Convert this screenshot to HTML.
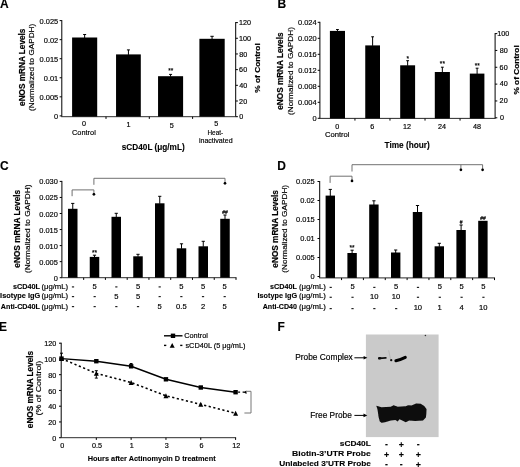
<!DOCTYPE html>
<html><head><meta charset="utf-8"><style>
html,body{margin:0;padding:0;background:#fff;}
svg{display:block;will-change:transform;}
text{font-family:"Liberation Sans", sans-serif;}
text{stroke:#000;stroke-width:0.18px;}
text[font-weight=bold]{stroke-width:0.12px;}
</style></head><body>
<svg width="520" height="467" viewBox="0 0 520 467">
<defs><filter id="gb" x="0" y="0" width="100%" height="100%" filterUnits="userSpaceOnUse"><feGaussianBlur stdDeviation="0.45"/></filter><filter id="bl" x="-10%" y="-30%" width="120%" height="160%"><feGaussianBlur stdDeviation="0.45"/></filter></defs>
<rect width="520" height="467" fill="#fff"/>
<g filter="url(#gb)">
<text x="0.10" y="8.20" font-size="12.00" font-weight="bold" textLength="8.67" lengthAdjust="spacingAndGlyphs">A</text>
<line x1="61.80" y1="20.10" x2="61.80" y2="116.70" stroke="#000" stroke-width="1.0"/>
<line x1="59.60" y1="20.60" x2="61.80" y2="20.60" stroke="#000" stroke-width="1.0"/>
<text x="39.57" y="23.89" font-size="8.10" textLength="18.65" lengthAdjust="spacingAndGlyphs">0.025</text>
<line x1="59.60" y1="39.66" x2="61.80" y2="39.66" stroke="#000" stroke-width="1.0"/>
<text x="43.78" y="42.95" font-size="8.10" textLength="14.50" lengthAdjust="spacingAndGlyphs">0.02</text>
<line x1="59.60" y1="58.72" x2="61.80" y2="58.72" stroke="#000" stroke-width="1.0"/>
<text x="39.57" y="62.01" font-size="8.10" textLength="18.65" lengthAdjust="spacingAndGlyphs">0.015</text>
<line x1="59.60" y1="77.78" x2="61.80" y2="77.78" stroke="#000" stroke-width="1.0"/>
<text x="43.78" y="81.07" font-size="8.10" textLength="14.50" lengthAdjust="spacingAndGlyphs">0.01</text>
<line x1="59.60" y1="96.84" x2="61.80" y2="96.84" stroke="#000" stroke-width="1.0"/>
<text x="39.57" y="100.13" font-size="8.10" textLength="18.65" lengthAdjust="spacingAndGlyphs">0.005</text>
<line x1="59.60" y1="115.90" x2="61.80" y2="115.90" stroke="#000" stroke-width="1.0"/>
<text x="54.06" y="119.19" font-size="8.10" textLength="4.14" lengthAdjust="spacingAndGlyphs">0</text>
<line x1="235.70" y1="22.10" x2="235.70" y2="116.70" stroke="#000" stroke-width="1.0"/>
<line x1="235.70" y1="22.60" x2="237.90" y2="22.60" stroke="#000" stroke-width="1.0"/>
<text x="238.96" y="25.21" font-size="7.20" textLength="12.01" lengthAdjust="spacingAndGlyphs">120</text>
<line x1="235.70" y1="38.28" x2="237.90" y2="38.28" stroke="#000" stroke-width="1.0"/>
<text x="238.96" y="40.89" font-size="7.20" textLength="12.01" lengthAdjust="spacingAndGlyphs">100</text>
<line x1="235.70" y1="53.96" x2="237.90" y2="53.96" stroke="#000" stroke-width="1.0"/>
<text x="239.18" y="56.57" font-size="7.20" textLength="8.01" lengthAdjust="spacingAndGlyphs">80</text>
<line x1="235.70" y1="69.64" x2="237.90" y2="69.64" stroke="#000" stroke-width="1.0"/>
<text x="239.14" y="72.25" font-size="7.20" textLength="8.01" lengthAdjust="spacingAndGlyphs">60</text>
<line x1="235.70" y1="85.32" x2="237.90" y2="85.32" stroke="#000" stroke-width="1.0"/>
<text x="239.32" y="87.93" font-size="7.20" textLength="8.01" lengthAdjust="spacingAndGlyphs">40</text>
<line x1="235.70" y1="101.00" x2="237.90" y2="101.00" stroke="#000" stroke-width="1.0"/>
<text x="239.14" y="103.61" font-size="7.20" textLength="8.01" lengthAdjust="spacingAndGlyphs">20</text>
<line x1="235.70" y1="116.68" x2="237.90" y2="116.68" stroke="#000" stroke-width="1.0"/>
<text x="239.21" y="119.29" font-size="7.20" textLength="4.00" lengthAdjust="spacingAndGlyphs">0</text>
<line x1="61.30" y1="116.70" x2="236.20" y2="116.70" stroke="#222" stroke-width="0.95"/>
<line x1="106.00" y1="116.70" x2="106.00" y2="118.90" stroke="#000" stroke-width="1.0"/>
<line x1="149.30" y1="116.70" x2="149.30" y2="118.90" stroke="#000" stroke-width="1.0"/>
<line x1="192.60" y1="116.70" x2="192.60" y2="118.90" stroke="#000" stroke-width="1.0"/>
<rect x="72.10" y="37.50" width="25.10" height="79.20" fill="#000"/>
<line x1="84.65" y1="34.50" x2="84.65" y2="38.00" stroke="#000" stroke-width="1"/>
<line x1="83.15" y1="34.50" x2="86.15" y2="34.50" stroke="#000" stroke-width="1"/>
<rect x="116.05" y="54.40" width="24.75" height="62.30" fill="#000"/>
<line x1="128.43" y1="49.90" x2="128.43" y2="54.90" stroke="#000" stroke-width="1"/>
<line x1="126.93" y1="49.90" x2="129.93" y2="49.90" stroke="#000" stroke-width="1"/>
<rect x="158.05" y="76.20" width="25.05" height="40.50" fill="#000"/>
<line x1="170.57" y1="74.40" x2="170.57" y2="76.70" stroke="#000" stroke-width="1"/>
<line x1="169.07" y1="74.40" x2="172.07" y2="74.40" stroke="#000" stroke-width="1"/>
<rect x="199.40" y="38.80" width="25.30" height="77.90" fill="#000"/>
<line x1="212.05" y1="36.30" x2="212.05" y2="39.30" stroke="#000" stroke-width="1"/>
<line x1="210.35" y1="36.30" x2="213.75" y2="36.30" stroke="#000" stroke-width="1"/>
<text x="168.16" y="73.45" font-size="6.50" textLength="5.06" lengthAdjust="spacingAndGlyphs">**</text>
<text x="81.90" y="125.90" font-size="7.20" textLength="4.00" lengthAdjust="spacingAndGlyphs">0</text>
<text x="126.51" y="127.20" font-size="7.20" textLength="4.00" lengthAdjust="spacingAndGlyphs">1</text>
<text x="169.80" y="127.70" font-size="7.20" textLength="4.00" lengthAdjust="spacingAndGlyphs">5</text>
<text x="214.20" y="126.20" font-size="7.20" textLength="4.00" lengthAdjust="spacingAndGlyphs">5</text>
<text x="72.03" y="134.60" font-size="7.90" textLength="23.78" lengthAdjust="spacingAndGlyphs">Control</text>
<text x="207.49" y="134.90" font-size="7.20" textLength="15.60" lengthAdjust="spacingAndGlyphs">Heat-</text>
<text x="198.94" y="143.40" font-size="7.20" textLength="33.62" lengthAdjust="spacingAndGlyphs">inactivated</text>
<text x="121.81" y="149.50" font-size="8.60" font-weight="bold" textLength="62.90" lengthAdjust="spacingAndGlyphs">sCD40L (μg/mL)</text>
<text x="24.80" y="105.93" font-size="8.20" font-weight="bold" style="stroke-width:0.2px" textLength="77.36" lengthAdjust="spacingAndGlyphs" transform="rotate(-90 24.80 105.93)">eNOS mRNA Levels</text>
<text x="33.90" y="110.99" font-size="8.00" style="stroke-width:0.18px" textLength="87.22" lengthAdjust="spacingAndGlyphs" transform="rotate(-90 33.90 110.99)">(Normalized to GAPDH)</text>
<text x="260.20" y="92.71" font-size="7.90" font-weight="bold" style="stroke-width:0.2px" textLength="49.42" lengthAdjust="spacingAndGlyphs" transform="rotate(-90 260.20 92.71)">% of Control</text>
<text x="277.42" y="8.20" font-size="12.00" font-weight="bold" textLength="8.67" lengthAdjust="spacingAndGlyphs">B</text>
<line x1="319.90" y1="21.80" x2="319.90" y2="118.40" stroke="#000" stroke-width="1.0"/>
<line x1="317.70" y1="22.30" x2="319.90" y2="22.30" stroke="#000" stroke-width="1.0"/>
<text x="297.99" y="25.19" font-size="8.10" textLength="18.65" lengthAdjust="spacingAndGlyphs">0.024</text>
<line x1="317.70" y1="38.30" x2="319.90" y2="38.30" stroke="#000" stroke-width="1.0"/>
<text x="298.07" y="41.19" font-size="8.10" textLength="18.65" lengthAdjust="spacingAndGlyphs">0.020</text>
<line x1="317.70" y1="54.30" x2="319.90" y2="54.30" stroke="#000" stroke-width="1.0"/>
<text x="298.11" y="57.19" font-size="8.10" textLength="18.65" lengthAdjust="spacingAndGlyphs">0.016</text>
<line x1="317.70" y1="70.30" x2="319.90" y2="70.30" stroke="#000" stroke-width="1.0"/>
<text x="298.14" y="73.19" font-size="8.10" textLength="18.65" lengthAdjust="spacingAndGlyphs">0.012</text>
<line x1="317.70" y1="86.30" x2="319.90" y2="86.30" stroke="#000" stroke-width="1.0"/>
<text x="298.07" y="89.19" font-size="8.10" textLength="18.65" lengthAdjust="spacingAndGlyphs">0.008</text>
<line x1="317.70" y1="102.30" x2="319.90" y2="102.30" stroke="#000" stroke-width="1.0"/>
<text x="297.99" y="105.19" font-size="8.10" textLength="18.65" lengthAdjust="spacingAndGlyphs">0.004</text>
<line x1="317.70" y1="118.30" x2="319.90" y2="118.30" stroke="#000" stroke-width="1.0"/>
<text x="312.56" y="121.19" font-size="8.10" textLength="4.14" lengthAdjust="spacingAndGlyphs">0</text>
<line x1="495.10" y1="33.10" x2="495.10" y2="118.40" stroke="#000" stroke-width="1.0"/>
<line x1="495.10" y1="33.60" x2="497.30" y2="33.60" stroke="#000" stroke-width="1.0"/>
<line x1="495.10" y1="50.44" x2="497.30" y2="50.44" stroke="#000" stroke-width="1.0"/>
<line x1="495.10" y1="67.28" x2="497.30" y2="67.28" stroke="#000" stroke-width="1.0"/>
<line x1="495.10" y1="84.12" x2="497.30" y2="84.12" stroke="#000" stroke-width="1.0"/>
<line x1="495.10" y1="100.96" x2="497.30" y2="100.96" stroke="#000" stroke-width="1.0"/>
<line x1="495.10" y1="117.80" x2="497.30" y2="117.80" stroke="#000" stroke-width="1.0"/>
<text x="497.26" y="36.21" font-size="7.20" textLength="12.01" lengthAdjust="spacingAndGlyphs">100</text>
<text x="499.68" y="52.81" font-size="7.20" textLength="8.01" lengthAdjust="spacingAndGlyphs">80</text>
<text x="499.64" y="69.61" font-size="7.20" textLength="8.01" lengthAdjust="spacingAndGlyphs">60</text>
<text x="499.82" y="85.91" font-size="7.20" textLength="8.01" lengthAdjust="spacingAndGlyphs">40</text>
<text x="499.64" y="102.91" font-size="7.20" textLength="8.01" lengthAdjust="spacingAndGlyphs">20</text>
<text x="500.11" y="120.11" font-size="7.20" textLength="4.00" lengthAdjust="spacingAndGlyphs">0</text>
<line x1="319.40" y1="118.40" x2="495.60" y2="118.40" stroke="#222" stroke-width="0.95"/>
<line x1="354.94" y1="118.40" x2="354.94" y2="120.60" stroke="#000" stroke-width="1.0"/>
<line x1="389.98" y1="118.40" x2="389.98" y2="120.60" stroke="#000" stroke-width="1.0"/>
<line x1="425.02" y1="118.40" x2="425.02" y2="120.60" stroke="#000" stroke-width="1.0"/>
<line x1="460.06" y1="118.40" x2="460.06" y2="120.60" stroke="#000" stroke-width="1.0"/>
<rect x="329.90" y="30.90" width="15.10" height="87.50" fill="#000"/>
<line x1="337.45" y1="29.50" x2="337.45" y2="31.40" stroke="#000" stroke-width="1"/>
<line x1="336.05" y1="29.50" x2="338.85" y2="29.50" stroke="#000" stroke-width="1"/>
<rect x="365.25" y="45.40" width="14.75" height="73.00" fill="#000"/>
<line x1="372.62" y1="36.80" x2="372.62" y2="45.90" stroke="#000" stroke-width="1"/>
<line x1="371.23" y1="36.80" x2="374.02" y2="36.80" stroke="#000" stroke-width="1"/>
<rect x="400.20" y="65.30" width="14.90" height="53.10" fill="#000"/>
<line x1="407.65" y1="60.70" x2="407.65" y2="65.80" stroke="#000" stroke-width="1"/>
<line x1="406.25" y1="60.70" x2="409.05" y2="60.70" stroke="#000" stroke-width="1"/>
<rect x="434.80" y="72.00" width="15.10" height="46.40" fill="#000"/>
<line x1="442.35" y1="67.20" x2="442.35" y2="72.50" stroke="#000" stroke-width="1"/>
<line x1="440.95" y1="67.20" x2="443.75" y2="67.20" stroke="#000" stroke-width="1"/>
<rect x="469.80" y="73.60" width="14.60" height="44.80" fill="#000"/>
<line x1="477.10" y1="68.20" x2="477.10" y2="74.10" stroke="#000" stroke-width="1"/>
<line x1="475.70" y1="68.20" x2="478.50" y2="68.20" stroke="#000" stroke-width="1"/>
<text x="406.53" y="60.65" font-size="6.50" textLength="2.53" lengthAdjust="spacingAndGlyphs">*</text>
<text x="439.87" y="66.35" font-size="6.50" textLength="5.06" lengthAdjust="spacingAndGlyphs">**</text>
<text x="474.67" y="68.05" font-size="6.50" textLength="5.06" lengthAdjust="spacingAndGlyphs">**</text>
<text x="335.30" y="128.50" font-size="7.20" textLength="4.00" lengthAdjust="spacingAndGlyphs">0</text>
<text x="370.18" y="128.50" font-size="7.20" textLength="4.00" lengthAdjust="spacingAndGlyphs">6</text>
<text x="403.01" y="128.50" font-size="7.20" textLength="8.01" lengthAdjust="spacingAndGlyphs">12</text>
<text x="437.93" y="128.50" font-size="7.20" textLength="8.01" lengthAdjust="spacingAndGlyphs">24</text>
<text x="472.96" y="128.50" font-size="7.20" textLength="8.01" lengthAdjust="spacingAndGlyphs">48</text>
<text x="324.92" y="137.40" font-size="7.60" textLength="24.61" lengthAdjust="spacingAndGlyphs">Control</text>
<text x="384.52" y="147.70" font-size="8.60" font-weight="bold" textLength="45.27" lengthAdjust="spacingAndGlyphs">Time (hour)</text>
<text x="283.10" y="109.73" font-size="8.20" font-weight="bold" style="stroke-width:0.2px" textLength="77.26" lengthAdjust="spacingAndGlyphs" transform="rotate(-90 283.10 109.73)">eNOS mRNA Levels</text>
<text x="292.90" y="114.89" font-size="8.00" style="stroke-width:0.18px" textLength="87.82" lengthAdjust="spacingAndGlyphs" transform="rotate(-90 292.90 114.89)">(Normalized to GAPDH)</text>
<text x="519.30" y="94.61" font-size="7.80" font-weight="bold" style="stroke-width:0.2px" textLength="49.32" lengthAdjust="spacingAndGlyphs" transform="rotate(-90 519.30 94.61)">% of Control</text>
<text x="0.12" y="169.70" font-size="12.00" font-weight="bold" textLength="8.67" lengthAdjust="spacingAndGlyphs">C</text>
<line x1="61.90" y1="180.90" x2="61.90" y2="277.70" stroke="#000" stroke-width="1.0"/>
<line x1="59.70" y1="181.40" x2="61.90" y2="181.40" stroke="#000" stroke-width="1.0"/>
<text x="39.27" y="184.44" font-size="8.10" textLength="18.65" lengthAdjust="spacingAndGlyphs">0.030</text>
<line x1="59.70" y1="197.45" x2="61.90" y2="197.45" stroke="#000" stroke-width="1.0"/>
<text x="39.27" y="200.49" font-size="8.10" textLength="18.65" lengthAdjust="spacingAndGlyphs">0.025</text>
<line x1="59.70" y1="213.50" x2="61.90" y2="213.50" stroke="#000" stroke-width="1.0"/>
<text x="39.27" y="216.54" font-size="8.10" textLength="18.65" lengthAdjust="spacingAndGlyphs">0.020</text>
<line x1="59.70" y1="229.55" x2="61.90" y2="229.55" stroke="#000" stroke-width="1.0"/>
<text x="39.27" y="232.59" font-size="8.10" textLength="18.65" lengthAdjust="spacingAndGlyphs">0.015</text>
<line x1="59.70" y1="245.60" x2="61.90" y2="245.60" stroke="#000" stroke-width="1.0"/>
<text x="39.27" y="248.64" font-size="8.10" textLength="18.65" lengthAdjust="spacingAndGlyphs">0.010</text>
<line x1="59.70" y1="261.65" x2="61.90" y2="261.65" stroke="#000" stroke-width="1.0"/>
<text x="39.27" y="264.69" font-size="8.10" textLength="18.65" lengthAdjust="spacingAndGlyphs">0.005</text>
<line x1="59.70" y1="277.70" x2="61.90" y2="277.70" stroke="#000" stroke-width="1.0"/>
<text x="53.76" y="280.74" font-size="8.10" textLength="4.14" lengthAdjust="spacingAndGlyphs">0</text>
<line x1="61.40" y1="277.70" x2="236.50" y2="277.70" stroke="#222" stroke-width="0.95"/>
<line x1="83.66" y1="277.70" x2="83.66" y2="279.90" stroke="#000" stroke-width="1.0"/>
<line x1="105.42" y1="277.70" x2="105.42" y2="279.90" stroke="#000" stroke-width="1.0"/>
<line x1="127.19" y1="277.70" x2="127.19" y2="279.90" stroke="#000" stroke-width="1.0"/>
<line x1="148.95" y1="277.70" x2="148.95" y2="279.90" stroke="#000" stroke-width="1.0"/>
<line x1="170.71" y1="277.70" x2="170.71" y2="279.90" stroke="#000" stroke-width="1.0"/>
<line x1="192.47" y1="277.70" x2="192.47" y2="279.90" stroke="#000" stroke-width="1.0"/>
<line x1="214.24" y1="277.70" x2="214.24" y2="279.90" stroke="#000" stroke-width="1.0"/>
<line x1="236.00" y1="277.70" x2="236.00" y2="279.90" stroke="#000" stroke-width="1.0"/>
<rect x="68.00" y="208.80" width="9.50" height="68.90" fill="#000"/>
<line x1="72.75" y1="203.40" x2="72.75" y2="209.30" stroke="#000" stroke-width="1"/>
<line x1="71.15" y1="203.40" x2="74.35" y2="203.40" stroke="#000" stroke-width="1"/>
<rect x="89.75" y="256.90" width="9.50" height="20.80" fill="#000"/>
<line x1="94.50" y1="255.20" x2="94.50" y2="257.40" stroke="#000" stroke-width="1"/>
<line x1="92.90" y1="255.20" x2="96.10" y2="255.20" stroke="#000" stroke-width="1"/>
<rect x="111.50" y="216.80" width="9.50" height="60.90" fill="#000"/>
<line x1="116.25" y1="213.30" x2="116.25" y2="217.30" stroke="#000" stroke-width="1"/>
<line x1="114.65" y1="213.30" x2="117.85" y2="213.30" stroke="#000" stroke-width="1"/>
<rect x="133.25" y="256.30" width="9.50" height="21.40" fill="#000"/>
<line x1="138.00" y1="254.30" x2="138.00" y2="256.80" stroke="#000" stroke-width="1"/>
<line x1="136.40" y1="254.30" x2="139.60" y2="254.30" stroke="#000" stroke-width="1"/>
<rect x="155.00" y="203.30" width="9.50" height="74.40" fill="#000"/>
<line x1="159.75" y1="196.30" x2="159.75" y2="203.80" stroke="#000" stroke-width="1"/>
<line x1="158.15" y1="196.30" x2="161.35" y2="196.30" stroke="#000" stroke-width="1"/>
<rect x="176.75" y="248.30" width="9.50" height="29.40" fill="#000"/>
<line x1="181.50" y1="243.80" x2="181.50" y2="248.80" stroke="#000" stroke-width="1"/>
<line x1="179.90" y1="243.80" x2="183.10" y2="243.80" stroke="#000" stroke-width="1"/>
<rect x="198.50" y="246.30" width="9.50" height="31.40" fill="#000"/>
<line x1="203.25" y1="241.30" x2="203.25" y2="246.80" stroke="#000" stroke-width="1"/>
<line x1="201.65" y1="241.30" x2="204.85" y2="241.30" stroke="#000" stroke-width="1"/>
<rect x="220.25" y="218.80" width="9.50" height="58.90" fill="#000"/>
<line x1="225.00" y1="215.00" x2="225.00" y2="219.30" stroke="#000" stroke-width="1"/>
<line x1="223.40" y1="215.00" x2="226.60" y2="215.00" stroke="#000" stroke-width="1"/>
<text x="91.97" y="255.35" font-size="6.50" textLength="5.06" lengthAdjust="spacingAndGlyphs">**</text>
<text x="222.28" y="213.92" font-size="4.90" textLength="5.45" lengthAdjust="spacingAndGlyphs">##</text>
<path d="M72.10 196.2 V189.9 H93.90 V193.8" fill="none" stroke="#707070" stroke-width="1"/>
<circle cx="93.90" cy="194.3" r="1.35"/>
<path d="M93.90 184.8 V178.3 H225.00 V182.8" fill="none" stroke="#707070" stroke-width="1"/>
<circle cx="225.00" cy="183.3" r="1.35"/>
<text x="12.95" y="289.40" font-size="7.30" font-weight="bold" textLength="26.96" lengthAdjust="spacingAndGlyphs">sCD40L</text>
<text x="41.44" y="289.40" font-size="7.30" textLength="26.67" lengthAdjust="spacingAndGlyphs">(μg/mL)</text>
<text x="0.12" y="298.40" font-size="7.30" font-weight="bold" textLength="40.02" lengthAdjust="spacingAndGlyphs">Isotype IgG</text>
<text x="41.44" y="298.40" font-size="7.30" textLength="26.67" lengthAdjust="spacingAndGlyphs">(μg/mL)</text>
<text x="0.82" y="308.60" font-size="7.30" font-weight="bold" textLength="39.09" lengthAdjust="spacingAndGlyphs">Anti-CD40L</text>
<text x="41.44" y="308.60" font-size="7.30" textLength="26.67" lengthAdjust="spacingAndGlyphs">(μg/mL)</text>
<rect x="71.90" y="286.30" width="2.20" height="1.20" fill="#222"/>
<text x="92.56" y="288.60" font-size="7.60" textLength="4.23" lengthAdjust="spacingAndGlyphs">5</text>
<rect x="115.24" y="286.30" width="2.20" height="1.20" fill="#222"/>
<text x="135.90" y="288.60" font-size="7.60" textLength="4.23" lengthAdjust="spacingAndGlyphs">5</text>
<rect x="158.58" y="286.30" width="2.20" height="1.20" fill="#222"/>
<text x="179.24" y="288.60" font-size="7.60" textLength="4.23" lengthAdjust="spacingAndGlyphs">5</text>
<text x="200.91" y="288.60" font-size="7.60" textLength="4.23" lengthAdjust="spacingAndGlyphs">5</text>
<text x="222.58" y="288.60" font-size="7.60" textLength="4.23" lengthAdjust="spacingAndGlyphs">5</text>
<rect x="71.90" y="296.00" width="2.20" height="1.20" fill="#222"/>
<rect x="93.57" y="296.00" width="2.20" height="1.20" fill="#222"/>
<text x="114.23" y="298.50" font-size="7.60" textLength="4.23" lengthAdjust="spacingAndGlyphs">5</text>
<text x="135.90" y="298.50" font-size="7.60" textLength="4.23" lengthAdjust="spacingAndGlyphs">5</text>
<rect x="158.58" y="296.00" width="2.20" height="1.20" fill="#222"/>
<rect x="180.25" y="296.00" width="2.20" height="1.20" fill="#222"/>
<rect x="201.92" y="296.00" width="2.20" height="1.20" fill="#222"/>
<rect x="223.59" y="296.00" width="2.20" height="1.20" fill="#222"/>
<rect x="71.90" y="306.00" width="2.20" height="1.20" fill="#222"/>
<rect x="93.57" y="306.00" width="2.20" height="1.20" fill="#222"/>
<rect x="115.24" y="306.00" width="2.20" height="1.20" fill="#222"/>
<rect x="136.91" y="306.00" width="2.20" height="1.20" fill="#222"/>
<text x="157.57" y="308.70" font-size="7.60" textLength="4.23" lengthAdjust="spacingAndGlyphs">5</text>
<text x="176.07" y="308.70" font-size="7.60" textLength="10.57" lengthAdjust="spacingAndGlyphs">0.5</text>
<text x="200.91" y="308.70" font-size="7.60" textLength="4.23" lengthAdjust="spacingAndGlyphs">2</text>
<text x="222.58" y="308.70" font-size="7.60" textLength="4.23" lengthAdjust="spacingAndGlyphs">5</text>
<text x="277.22" y="169.70" font-size="12.00" font-weight="bold" textLength="8.67" lengthAdjust="spacingAndGlyphs">D</text>
<line x1="319.70" y1="181.00" x2="319.70" y2="277.90" stroke="#000" stroke-width="1.0"/>
<line x1="317.50" y1="181.50" x2="319.70" y2="181.50" stroke="#000" stroke-width="1.0"/>
<text x="296.07" y="184.34" font-size="8.10" textLength="18.65" lengthAdjust="spacingAndGlyphs">0.025</text>
<line x1="317.50" y1="200.50" x2="319.70" y2="200.50" stroke="#000" stroke-width="1.0"/>
<text x="300.28" y="203.34" font-size="8.10" textLength="14.50" lengthAdjust="spacingAndGlyphs">0.02</text>
<line x1="317.50" y1="219.50" x2="319.70" y2="219.50" stroke="#000" stroke-width="1.0"/>
<text x="296.07" y="222.34" font-size="8.10" textLength="18.65" lengthAdjust="spacingAndGlyphs">0.015</text>
<line x1="317.50" y1="238.50" x2="319.70" y2="238.50" stroke="#000" stroke-width="1.0"/>
<text x="300.28" y="241.34" font-size="8.10" textLength="14.50" lengthAdjust="spacingAndGlyphs">0.01</text>
<line x1="317.50" y1="257.50" x2="319.70" y2="257.50" stroke="#000" stroke-width="1.0"/>
<text x="296.07" y="260.34" font-size="8.10" textLength="18.65" lengthAdjust="spacingAndGlyphs">0.005</text>
<line x1="317.50" y1="276.50" x2="319.70" y2="276.50" stroke="#000" stroke-width="1.0"/>
<text x="310.56" y="279.34" font-size="8.10" textLength="4.14" lengthAdjust="spacingAndGlyphs">0</text>
<line x1="319.20" y1="277.90" x2="495.00" y2="277.90" stroke="#222" stroke-width="0.95"/>
<line x1="341.55" y1="277.90" x2="341.55" y2="280.10" stroke="#000" stroke-width="1.0"/>
<line x1="363.40" y1="277.90" x2="363.40" y2="280.10" stroke="#000" stroke-width="1.0"/>
<line x1="385.25" y1="277.90" x2="385.25" y2="280.10" stroke="#000" stroke-width="1.0"/>
<line x1="407.10" y1="277.90" x2="407.10" y2="280.10" stroke="#000" stroke-width="1.0"/>
<line x1="428.95" y1="277.90" x2="428.95" y2="280.10" stroke="#000" stroke-width="1.0"/>
<line x1="450.80" y1="277.90" x2="450.80" y2="280.10" stroke="#000" stroke-width="1.0"/>
<line x1="472.65" y1="277.90" x2="472.65" y2="280.10" stroke="#000" stroke-width="1.0"/>
<line x1="494.50" y1="277.90" x2="494.50" y2="280.10" stroke="#000" stroke-width="1.0"/>
<rect x="325.60" y="195.60" width="9.40" height="82.30" fill="#000"/>
<line x1="330.30" y1="189.40" x2="330.30" y2="196.10" stroke="#000" stroke-width="1"/>
<line x1="328.70" y1="189.40" x2="331.90" y2="189.40" stroke="#000" stroke-width="1"/>
<rect x="347.40" y="253.00" width="9.40" height="24.90" fill="#000"/>
<line x1="352.10" y1="250.20" x2="352.10" y2="253.50" stroke="#000" stroke-width="1"/>
<line x1="350.50" y1="250.20" x2="353.70" y2="250.20" stroke="#000" stroke-width="1"/>
<rect x="369.20" y="204.50" width="9.40" height="73.40" fill="#000"/>
<line x1="373.90" y1="200.80" x2="373.90" y2="205.00" stroke="#000" stroke-width="1"/>
<line x1="372.30" y1="200.80" x2="375.50" y2="200.80" stroke="#000" stroke-width="1"/>
<rect x="391.00" y="252.50" width="9.40" height="25.40" fill="#000"/>
<line x1="395.70" y1="250.00" x2="395.70" y2="253.00" stroke="#000" stroke-width="1"/>
<line x1="394.10" y1="250.00" x2="397.30" y2="250.00" stroke="#000" stroke-width="1"/>
<rect x="412.80" y="212.00" width="9.40" height="65.90" fill="#000"/>
<line x1="417.50" y1="205.50" x2="417.50" y2="212.50" stroke="#000" stroke-width="1"/>
<line x1="415.90" y1="205.50" x2="419.10" y2="205.50" stroke="#000" stroke-width="1"/>
<rect x="434.60" y="246.30" width="9.40" height="31.60" fill="#000"/>
<line x1="439.30" y1="243.30" x2="439.30" y2="246.80" stroke="#000" stroke-width="1"/>
<line x1="437.70" y1="243.30" x2="440.90" y2="243.30" stroke="#000" stroke-width="1"/>
<rect x="456.40" y="230.00" width="9.40" height="47.90" fill="#000"/>
<line x1="461.10" y1="225.00" x2="461.10" y2="230.50" stroke="#000" stroke-width="1"/>
<line x1="459.50" y1="225.00" x2="462.70" y2="225.00" stroke="#000" stroke-width="1"/>
<rect x="478.20" y="220.80" width="9.40" height="57.10" fill="#000"/>
<text x="349.57" y="249.85" font-size="6.50" textLength="5.06" lengthAdjust="spacingAndGlyphs">**</text>
<text x="459.71" y="223.57" font-size="5.00" textLength="2.78" lengthAdjust="spacingAndGlyphs">#</text>
<text x="480.18" y="219.52" font-size="4.90" textLength="5.45" lengthAdjust="spacingAndGlyphs">##</text>
<path d="M330.10 182.9 V176.2 H352.00 V180.4" fill="none" stroke="#707070" stroke-width="1"/>
<circle cx="352.00" cy="180.9" r="1.35"/>
<path d="M352.00 171.5 V164.7 H482.60 V169.3" fill="none" stroke="#707070" stroke-width="1"/>
<path d="M460.90 164.7 V169.3" fill="none" stroke="#707070" stroke-width="1"/>
<circle cx="460.90" cy="169.8" r="1.35"/>
<circle cx="482.60" cy="169.8" r="1.35"/>
<text x="270.05" y="289.40" font-size="7.30" font-weight="bold" textLength="26.86" lengthAdjust="spacingAndGlyphs">sCD40L</text>
<text x="298.93" y="289.40" font-size="7.30" textLength="26.87" lengthAdjust="spacingAndGlyphs">(μg/mL)</text>
<text x="257.53" y="298.40" font-size="7.30" font-weight="bold" textLength="39.61" lengthAdjust="spacingAndGlyphs">Isotype IgG</text>
<text x="298.93" y="298.40" font-size="7.30" textLength="26.87" lengthAdjust="spacingAndGlyphs">(μg/mL)</text>
<text x="262.72" y="308.60" font-size="7.30" font-weight="bold" textLength="34.25" lengthAdjust="spacingAndGlyphs">Anti-CD40</text>
<text x="298.93" y="308.60" font-size="7.30" textLength="26.87" lengthAdjust="spacingAndGlyphs">(μg/mL)</text>
<rect x="329.60" y="286.80" width="2.20" height="1.20" fill="#222"/>
<text x="350.41" y="289.20" font-size="7.60" textLength="4.23" lengthAdjust="spacingAndGlyphs">5</text>
<rect x="373.24" y="286.80" width="2.20" height="1.20" fill="#222"/>
<text x="394.05" y="289.20" font-size="7.60" textLength="4.23" lengthAdjust="spacingAndGlyphs">5</text>
<rect x="416.88" y="286.80" width="2.20" height="1.20" fill="#222"/>
<text x="437.69" y="289.20" font-size="7.60" textLength="4.23" lengthAdjust="spacingAndGlyphs">5</text>
<text x="459.51" y="289.20" font-size="7.60" textLength="4.23" lengthAdjust="spacingAndGlyphs">5</text>
<text x="481.33" y="289.20" font-size="7.60" textLength="4.23" lengthAdjust="spacingAndGlyphs">5</text>
<rect x="329.60" y="296.70" width="2.20" height="1.20" fill="#222"/>
<rect x="351.42" y="296.70" width="2.20" height="1.20" fill="#222"/>
<text x="369.99" y="298.80" font-size="7.60" textLength="8.45" lengthAdjust="spacingAndGlyphs">10</text>
<text x="391.81" y="298.80" font-size="7.60" textLength="8.45" lengthAdjust="spacingAndGlyphs">10</text>
<rect x="416.88" y="296.70" width="2.20" height="1.20" fill="#222"/>
<rect x="438.70" y="296.70" width="2.20" height="1.20" fill="#222"/>
<rect x="460.52" y="296.70" width="2.20" height="1.20" fill="#222"/>
<rect x="482.34" y="296.70" width="2.20" height="1.20" fill="#222"/>
<rect x="329.60" y="308.00" width="2.20" height="1.20" fill="#222"/>
<rect x="351.42" y="308.00" width="2.20" height="1.20" fill="#222"/>
<rect x="373.24" y="308.00" width="2.20" height="1.20" fill="#222"/>
<rect x="395.06" y="308.00" width="2.20" height="1.20" fill="#222"/>
<text x="413.63" y="310.00" font-size="7.60" textLength="8.45" lengthAdjust="spacingAndGlyphs">10</text>
<text x="437.60" y="310.00" font-size="7.60" textLength="4.23" lengthAdjust="spacingAndGlyphs">1</text>
<text x="459.53" y="310.00" font-size="7.60" textLength="4.23" lengthAdjust="spacingAndGlyphs">4</text>
<text x="479.09" y="310.00" font-size="7.60" textLength="8.45" lengthAdjust="spacingAndGlyphs">10</text>
<text x="277.70" y="267.63" font-size="8.20" font-weight="bold" style="stroke-width:0.2px" textLength="77.57" lengthAdjust="spacingAndGlyphs" transform="rotate(-90 277.70 267.63)">eNOS mRNA Levels</text>
<text x="287.40" y="272.69" font-size="8.00" style="stroke-width:0.18px" textLength="87.82" lengthAdjust="spacingAndGlyphs" transform="rotate(-90 287.40 272.69)">(Normalized to GAPDH)</text>
<text x="19.70" y="267.63" font-size="8.20" font-weight="bold" style="stroke-width:0.2px" textLength="77.77" lengthAdjust="spacingAndGlyphs" transform="rotate(-90 19.70 267.63)">eNOS mRNA Levels</text>
<text x="29.50" y="273.00" font-size="8.00" style="stroke-width:0.18px" textLength="88.43" lengthAdjust="spacingAndGlyphs" transform="rotate(-90 29.50 273.00)">(Normalized to GAPDH)</text>
<text x="-0.98" y="330.60" font-size="12.00" font-weight="bold" textLength="8.00" lengthAdjust="spacingAndGlyphs">E</text>
<line x1="61.20" y1="342.70" x2="61.20" y2="437.70" stroke="#000" stroke-width="1.0"/>
<line x1="59.00" y1="343.20" x2="61.20" y2="343.20" stroke="#000" stroke-width="1.0"/>
<text x="44.30" y="346.31" font-size="7.20" textLength="12.01" lengthAdjust="spacingAndGlyphs">120</text>
<line x1="59.00" y1="358.95" x2="61.20" y2="358.95" stroke="#000" stroke-width="1.0"/>
<text x="44.30" y="362.06" font-size="7.20" textLength="12.01" lengthAdjust="spacingAndGlyphs">100</text>
<line x1="59.00" y1="374.70" x2="61.20" y2="374.70" stroke="#000" stroke-width="1.0"/>
<text x="48.30" y="377.81" font-size="7.20" textLength="8.01" lengthAdjust="spacingAndGlyphs">80</text>
<line x1="59.00" y1="390.45" x2="61.20" y2="390.45" stroke="#000" stroke-width="1.0"/>
<text x="48.30" y="393.56" font-size="7.20" textLength="8.01" lengthAdjust="spacingAndGlyphs">60</text>
<line x1="59.00" y1="406.20" x2="61.20" y2="406.20" stroke="#000" stroke-width="1.0"/>
<text x="48.30" y="409.31" font-size="7.20" textLength="8.01" lengthAdjust="spacingAndGlyphs">40</text>
<line x1="59.00" y1="421.95" x2="61.20" y2="421.95" stroke="#000" stroke-width="1.0"/>
<text x="48.30" y="425.06" font-size="7.20" textLength="8.01" lengthAdjust="spacingAndGlyphs">20</text>
<line x1="59.00" y1="437.70" x2="61.20" y2="437.70" stroke="#000" stroke-width="1.0"/>
<text x="52.29" y="440.81" font-size="7.20" textLength="4.00" lengthAdjust="spacingAndGlyphs">0</text>
<line x1="60.70" y1="437.70" x2="236.10" y2="437.70" stroke="#222" stroke-width="0.95"/>
<line x1="96.32" y1="437.70" x2="96.32" y2="439.90" stroke="#000" stroke-width="1.0"/>
<line x1="131.14" y1="437.70" x2="131.14" y2="439.90" stroke="#000" stroke-width="1.0"/>
<line x1="165.96" y1="437.70" x2="165.96" y2="439.90" stroke="#000" stroke-width="1.0"/>
<line x1="200.78" y1="437.70" x2="200.78" y2="439.90" stroke="#000" stroke-width="1.0"/>
<line x1="235.60" y1="437.70" x2="235.60" y2="439.90" stroke="#000" stroke-width="1.0"/>
<polyline points="61.50,358.60 96.32,361.20 131.14,366.30 165.96,379.30 200.78,387.50 235.60,392.20" fill="none" stroke="#000" stroke-width="1.45"/>
<polyline points="61.50,358.60 96.32,373.40 131.14,382.50 165.96,395.80 200.78,404.30 235.60,413.30" fill="none" stroke="#000" stroke-width="1.55" stroke-dasharray="2.2 2.5"/>
<rect x="59.30" y="356.40" width="4.40" height="4.40" fill="#000"/>
<rect x="94.12" y="359.00" width="4.40" height="4.40" fill="#000"/>
<rect x="128.94" y="364.10" width="4.40" height="4.40" fill="#000"/>
<rect x="163.76" y="377.10" width="4.40" height="4.40" fill="#000"/>
<rect x="198.58" y="385.30" width="4.40" height="4.40" fill="#000"/>
<rect x="233.40" y="390.00" width="4.40" height="4.40" fill="#000"/>
<path d="M59.00 361.05 L61.50 356.15 L64.00 361.05 Z" fill="#000" stroke="none" stroke-width="1"/>
<path d="M93.82 375.85 L96.32 370.95 L98.82 375.85 Z" fill="#000" stroke="none" stroke-width="1"/>
<path d="M128.64 384.95 L131.14 380.05 L133.64 384.95 Z" fill="#000" stroke="none" stroke-width="1"/>
<path d="M163.46 398.25 L165.96 393.35 L168.46 398.25 Z" fill="#000" stroke="none" stroke-width="1"/>
<path d="M198.28 406.75 L200.78 401.85 L203.28 406.75 Z" fill="#000" stroke="none" stroke-width="1"/>
<path d="M233.10 415.75 L235.60 410.85 L238.10 415.75 Z" fill="#000" stroke="none" stroke-width="1"/>
<line x1="96.32" y1="370.70" x2="96.32" y2="373.90" stroke="#000" stroke-width="1"/>
<line x1="94.82" y1="370.70" x2="97.82" y2="370.70" stroke="#000" stroke-width="1"/>
<line x1="94.82" y1="378.10" x2="97.82" y2="378.10" stroke="#000" stroke-width="1"/>
<line x1="96.32" y1="373.40" x2="96.32" y2="378.10" stroke="#000" stroke-width="1"/>
<line x1="61.50" y1="353.20" x2="61.50" y2="359.10" stroke="#000" stroke-width="1"/>
<line x1="60.00" y1="353.20" x2="63.00" y2="353.20" stroke="#000" stroke-width="1"/>
<line x1="129.74" y1="363.50" x2="132.54" y2="363.50" stroke="#000" stroke-width="1"/>
<line x1="131.14" y1="363.50" x2="131.14" y2="366.00" stroke="#000" stroke-width="1"/>
<line x1="164.00" y1="335.80" x2="182.50" y2="335.80" stroke="#000" stroke-width="1.4"/>
<rect x="170.80" y="333.60" width="4.40" height="4.40" fill="#000"/>
<text x="184.23" y="338.00" font-size="7.40" textLength="23.67" lengthAdjust="spacingAndGlyphs">Control</text>
<line x1="164.00" y1="345.40" x2="166.30" y2="345.40" stroke="#000" stroke-width="1.4"/>
<line x1="180.20" y1="345.40" x2="182.40" y2="345.40" stroke="#000" stroke-width="1.4"/>
<path d="M169.70 347.85 L172.20 342.95 L174.70 347.85 Z" fill="#000" stroke="none" stroke-width="1"/>
<text x="185.38" y="348.40" font-size="7.40" textLength="60.09" lengthAdjust="spacingAndGlyphs">sCD40L (5 μg/mL)</text>
<path d="M247 391.3 H251 V413 H244.4" fill="none" stroke="#777" stroke-width="1"/>
<line x1="238.10" y1="392.20" x2="244.50" y2="392.20" stroke="#000" stroke-width="1.2" stroke-dasharray="2 2.5"/>
<path d="M243.5 392.2 L246.5 390.4 L246.5 394 Z" fill="#000" stroke="none" stroke-width="1"/>
<text x="60.30" y="448.30" font-size="7.20" textLength="4.00" lengthAdjust="spacingAndGlyphs">0</text>
<text x="92.12" y="448.30" font-size="7.20" textLength="10.01" lengthAdjust="spacingAndGlyphs">0.5</text>
<text x="129.85" y="448.30" font-size="7.20" textLength="4.00" lengthAdjust="spacingAndGlyphs">1</text>
<text x="164.78" y="448.30" font-size="7.20" textLength="4.00" lengthAdjust="spacingAndGlyphs">3</text>
<text x="199.56" y="448.30" font-size="7.20" textLength="4.00" lengthAdjust="spacingAndGlyphs">6</text>
<text x="232.31" y="448.30" font-size="7.20" textLength="8.01" lengthAdjust="spacingAndGlyphs">12</text>
<text x="87.82" y="460.60" font-size="7.80" font-weight="bold" textLength="127.76" lengthAdjust="spacingAndGlyphs">Hours after Actinomycin D treatment</text>
<text x="32.70" y="428.13" font-size="8.20" font-weight="bold" style="stroke-width:0.2px" textLength="77.26" lengthAdjust="spacingAndGlyphs" transform="rotate(-90 32.70 428.13)">eNOS mRNA Levels</text>
<text x="40.60" y="415.43" font-size="8.00" style="stroke-width:0.18px" textLength="54.70" lengthAdjust="spacingAndGlyphs" transform="rotate(-90 40.60 415.43)">(% of Control)</text>
<text x="277.42" y="330.60" font-size="12.00" font-weight="bold" textLength="7.33" lengthAdjust="spacingAndGlyphs">F</text>
<rect x="365.90" y="334.50" width="72.70" height="102.60" fill="#cacaca"/>
<g filter="url(#bl)">
<path d="M379.2 358.3 Q382.5 358.0 385.8 357.9" fill="none" stroke="#111" stroke-width="1.9" stroke-linecap="round"/>
<ellipse cx="379.6" cy="358.3" rx="1.6" ry="1.25" fill="#111"/>
<path d="M395.9 360.7 Q400 359.9 405.3 357.3" fill="none" stroke="#000" stroke-width="3.0" stroke-linecap="round"/>
<circle cx="391.2" cy="360.2" r="1.15" fill="#111"/>
<path d="M390.6 359 L388.6 350.3" fill="none" stroke="#aaa" stroke-width="0.6"/>
<path d="M376.3 405.8 L381.5 407.2 L390.8 406.7 L393.6 405.2 L397.7 406.7 L405.8 406.3 L408.1 405.2 L411.5 405.5 L416.1 403.5 L420.7 403.8 L424.2 406.1 L426.5 409 L426.3 414 L425.9 417.6 L423 420.5 L415 421.1 L409.2 420.5 L405.8 422.2 L402.3 420.5 L399.4 419.3 L397.7 421.6 L395.4 419.9 L390.8 420.5 L385 422.2 L381.5 422.8 L379.8 421.6 L378.7 417.6 L377.5 409.5 Z" fill="#0a0a0a" stroke="none" stroke-width="1"/>
</g>
<circle cx="425.4" cy="335.5" r="0.8" fill="#333"/>
<text x="295.23" y="359.90" font-size="8.30" textLength="57.47" lengthAdjust="spacingAndGlyphs">Probe Complex</text>
<line x1="354.40" y1="357.80" x2="364.50" y2="357.80" stroke="#000" stroke-width="1"/>
<path d="M367.4 357.8 L363.6 356.0 L363.6 359.6 Z" fill="#000" stroke="none" stroke-width="1"/>
<text x="310.24" y="417.50" font-size="8.30" textLength="41.56" lengthAdjust="spacingAndGlyphs">Free Probe</text>
<line x1="354.40" y1="415.40" x2="364.50" y2="415.40" stroke="#000" stroke-width="1"/>
<path d="M367.3 415.4 L363.5 413.6 L363.5 417.2 Z" fill="#000" stroke="none" stroke-width="1"/>
<text x="339.81" y="446.30" font-size="8.00" font-weight="bold" textLength="31.03" lengthAdjust="spacingAndGlyphs">sCD40L</text>
<text x="292.04" y="456.40" font-size="8.00" font-weight="bold" textLength="78.88" lengthAdjust="spacingAndGlyphs">Biotin-3’UTR Probe</text>
<text x="279.30" y="465.90" font-size="8.00" font-weight="bold" textLength="91.61" lengthAdjust="spacingAndGlyphs">Unlabeled 3’UTR Probe</text>
<text x="385.03" y="447.40" font-size="8.80" font-weight="bold" textLength="2.93" lengthAdjust="spacingAndGlyphs">-</text>
<text x="398.73" y="448.30" font-size="8.80" font-weight="bold" textLength="5.14" lengthAdjust="spacingAndGlyphs">+</text>
<text x="416.83" y="447.40" font-size="8.80" font-weight="bold" textLength="2.93" lengthAdjust="spacingAndGlyphs">-</text>
<text x="383.93" y="457.90" font-size="8.80" font-weight="bold" textLength="5.14" lengthAdjust="spacingAndGlyphs">+</text>
<text x="398.73" y="457.90" font-size="8.80" font-weight="bold" textLength="5.14" lengthAdjust="spacingAndGlyphs">+</text>
<text x="415.73" y="457.90" font-size="8.80" font-weight="bold" textLength="5.14" lengthAdjust="spacingAndGlyphs">+</text>
<text x="385.03" y="466.60" font-size="8.80" font-weight="bold" textLength="2.93" lengthAdjust="spacingAndGlyphs">-</text>
<text x="399.83" y="466.60" font-size="8.80" font-weight="bold" textLength="2.93" lengthAdjust="spacingAndGlyphs">-</text>
<text x="415.73" y="467.50" font-size="8.80" font-weight="bold" textLength="5.14" lengthAdjust="spacingAndGlyphs">+</text>
</g>
</svg>
</body></html>
